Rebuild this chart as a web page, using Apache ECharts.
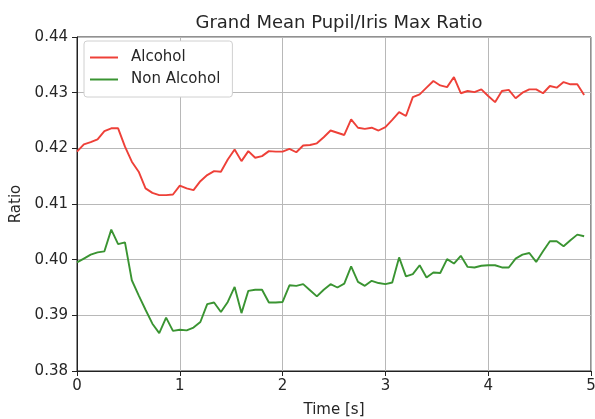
<!DOCTYPE html>
<html>
<head>
<meta charset="utf-8">
<script src="https://cdn.jsdelivr.net/npm/echarts@6/dist/echarts.min.js"></script>
<style>
  html, body { margin: 0; padding: 0; background: #ffffff; }
  #chart { width: 595px; height: 419px; }
</style>
</head>
<body>
<div id="chart"></div>
<script>
// Pupil/iris ratio, averaged over all subjects, sampled at 15 Hz
const SAMPLE_RATE = 15;

const alcohol = [
  0.4194, 0.4207, 0.4211, 0.4216, 0.4231, 0.4236, 0.4236, 0.4203, 0.4176, 0.4158,
  0.4128, 0.4120, 0.4116, 0.4116, 0.4117, 0.4133, 0.4128, 0.4125, 0.4141, 0.4152,
  0.4159, 0.4158, 0.4180, 0.4198, 0.4177, 0.4195, 0.4183, 0.4186, 0.4195, 0.4194,
  0.4194, 0.4199, 0.4193, 0.4205, 0.4206, 0.4209, 0.4220, 0.4232, 0.4228, 0.4224,
  0.4252, 0.4237, 0.4235, 0.4237, 0.4232, 0.4238, 0.4251, 0.4265, 0.4258, 0.4292,
  0.4297, 0.4309, 0.4321, 0.4313, 0.4310, 0.4328, 0.4299, 0.4303, 0.4301, 0.4306,
  0.4294, 0.4283, 0.4303, 0.4305, 0.4290, 0.4300, 0.4306, 0.4306, 0.4299, 0.4312,
  0.4309, 0.4319, 0.4315, 0.4315, 0.4296
];

const nonAlcohol = [
  0.3995, 0.4002, 0.4009, 0.4013, 0.4015, 0.4054, 0.4028, 0.4031, 0.3963, 0.3936,
  0.3910, 0.3885, 0.3868, 0.3896, 0.3872, 0.3874, 0.3873, 0.3878, 0.3888, 0.3920,
  0.3923, 0.3906, 0.3924, 0.3951, 0.3904, 0.3944, 0.3946, 0.3946, 0.3923, 0.3923,
  0.3924, 0.3954, 0.3953, 0.3956, 0.3945, 0.3934, 0.3946, 0.3956, 0.3950, 0.3957,
  0.3988, 0.3960, 0.3953, 0.3962, 0.3958, 0.3956, 0.3959, 0.4004, 0.3970, 0.3974,
  0.3990, 0.3968, 0.3977, 0.3976, 0.4001, 0.3993, 0.4007, 0.3987, 0.3986, 0.3989,
  0.3990, 0.3990, 0.3986, 0.3986, 0.4002, 0.4009, 0.4012, 0.3996, 0.4015, 0.4033,
  0.4033, 0.4024, 0.4035, 0.4045, 0.4042
];

const seriesNames = ['Alcohol', 'Non Alcohol'];
const titleText = 'Grand Mean Pupil/Iris Max Ratio';
const xLabel = 'Time [s]';
const yLabel = 'Ratio';

const pairs = vals => vals.map((v, i) => [i / SAMPLE_RATE, v]);

const FONT = 'DejaVu Sans';
const TEXT = '#262626';
const chart = echarts.init(document.getElementById('chart'), null, { renderer: 'canvas' });

chart.setOption({
  backgroundColor: '#ffffff',
  animation: false,
  title: {
    text: titleText,
    left: 334, top: 9, textAlign: 'center',
    textStyle: { fontFamily: FONT, fontSize: 18, fontWeight: 'normal', color: TEXT }
  },
  grid: {
    left: 77, right: 4, top: 37, bottom: 48,
    outerBoundsMode: 'none', containLabel: false,
    show: true, borderColor: '#222', borderWidth: 1, backgroundColor: 'transparent'
  },
  legend: {
    data: seriesNames,
    orient: 'vertical',
    left: 84, top: 41,
    itemWidth: 28, itemHeight: 2, itemGap: 7,
    icon: 'rect',
    backgroundColor: '#ffffff',
    borderColor: '#d0d0d0', borderWidth: 1, borderRadius: 3,
    padding: [9, 12, 10, 6],
    textStyle: { fontFamily: FONT, fontSize: 15, color: TEXT, padding: [0, 0, 0, 8] }
  },
  xAxis: {
    type: 'value', min: 0, max: 5, interval: 1,
    name: xLabel, nameLocation: 'middle', nameGap: 32,
    nameTextStyle: { fontFamily: FONT, fontSize: 15, color: TEXT },
    axisLine: { show: true, onZero: false, lineStyle: { color: '#222', width: 1 } },
    axisTick: { show: true, length: 5, lineStyle: { color: '#222' } },
    axisLabel: { fontFamily: FONT, fontSize: 15, color: TEXT, margin: 8 },
    splitLine: { show: true, lineStyle: { color: '#b8b8b8', width: 1 } }
  },
  yAxis: {
    type: 'value', min: 0.38, max: 0.44, interval: 0.01,
    name: yLabel, nameLocation: 'middle', nameGap: 50, nameRotate: 90,
    nameTextStyle: { fontFamily: FONT, fontSize: 15, color: TEXT },
    axisLine: { show: true, onZero: false, lineStyle: { color: '#222', width: 1 } },
    axisTick: { show: true, length: 5, lineStyle: { color: '#222' } },
    axisLabel: {
      fontFamily: FONT, fontSize: 15, color: TEXT, margin: 9,
      formatter: v => v.toFixed(2)
    },
    splitLine: { show: true, lineStyle: { color: '#b8b8b8', width: 1 } }
  },
  series: [
    {
      name: seriesNames[0], type: 'line', data: pairs(alcohol),
      showSymbol: false, symbol: 'none',
      lineStyle: { color: '#ee4038', width: 1.9 }, itemStyle: { color: '#ee4038' }
    },
    {
      name: seriesNames[1], type: 'line', data: pairs(nonAlcohol),
      showSymbol: false, symbol: 'none',
      lineStyle: { color: '#3a9432', width: 1.9 }, itemStyle: { color: '#3a9432' }
    }
  ]
});
</script>
</body>
</html>
